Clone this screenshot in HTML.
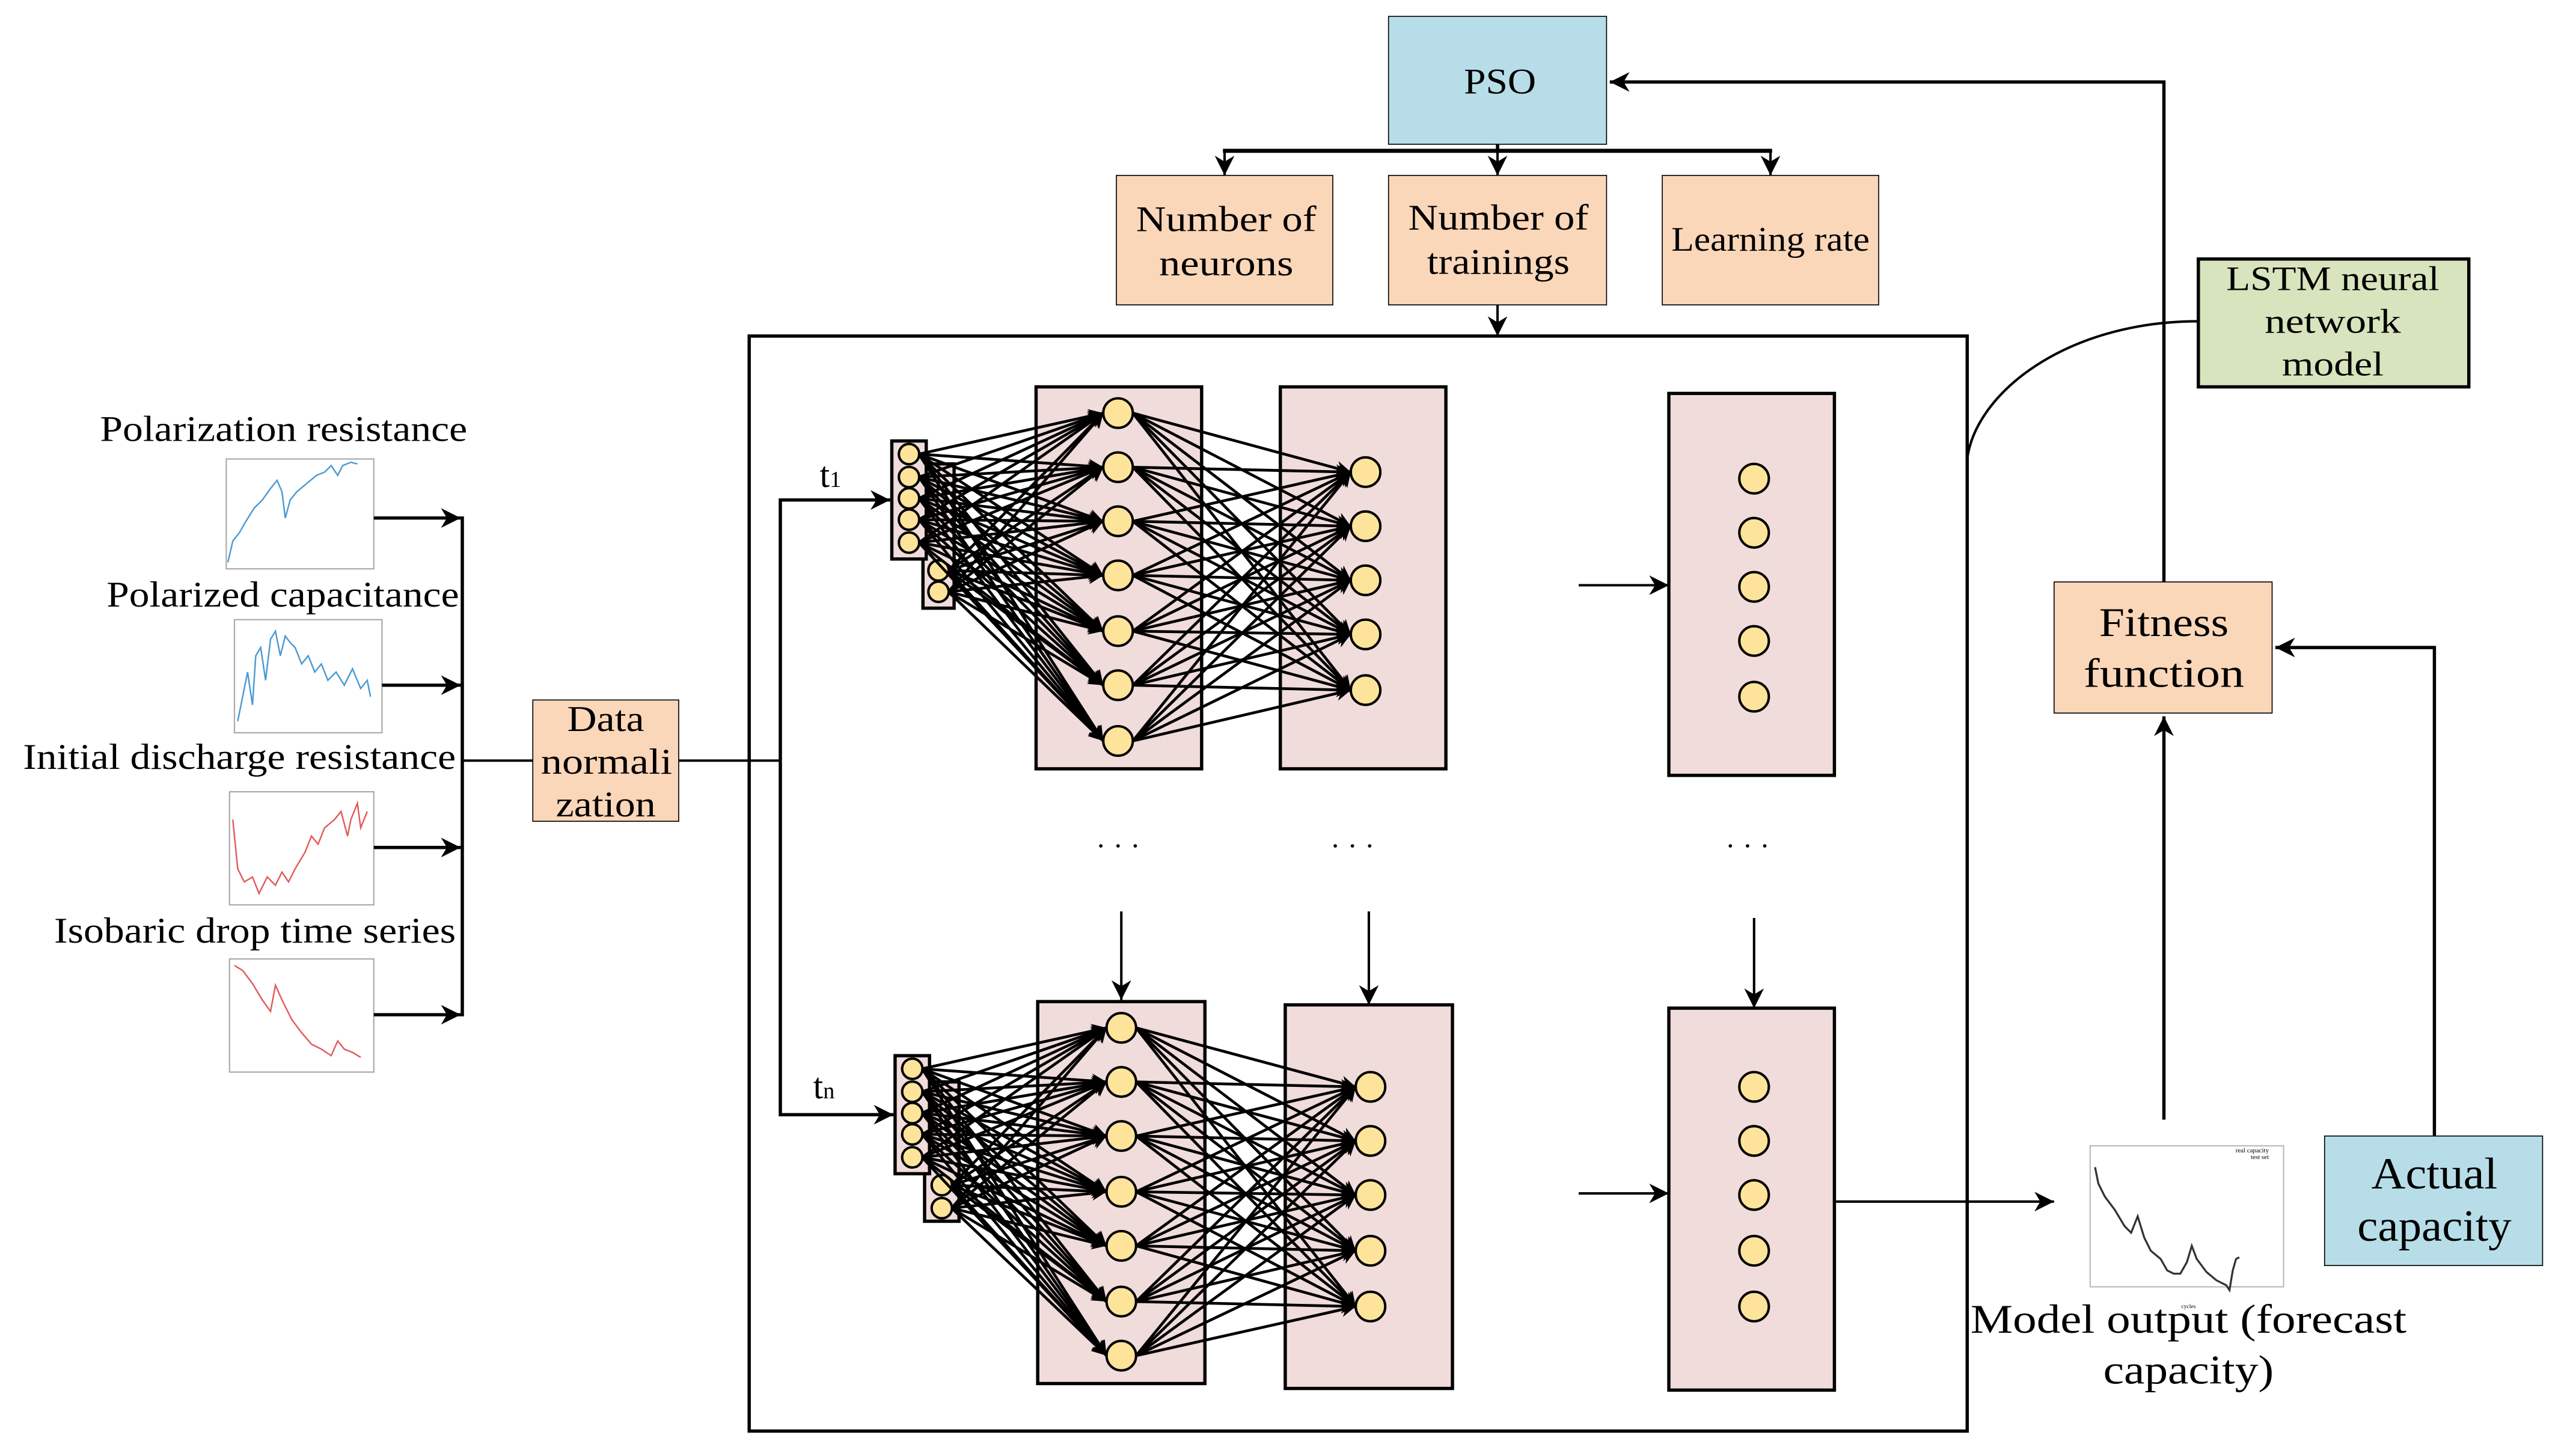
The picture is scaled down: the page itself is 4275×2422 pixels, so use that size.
<!DOCTYPE html>
<html><head><meta charset="utf-8"><style>
html,body{margin:0;padding:0;background:#fff;}
svg{display:block;}
text{font-family:"Liberation Serif",serif;fill:#000;}
</style></head><body>
<svg id="s" width="4275" height="2422" viewBox="0 0 1567.7 888.2" xmlns="http://www.w3.org/2000/svg">
<defs>
<marker id="a" viewBox="0 0 10 10" refX="10" refY="5" markerWidth="9" markerHeight="9" markerUnits="userSpaceOnUse" orient="auto"><path d="M0,0 L10,5 L0,10 L3,5 z" fill="#000"/></marker>
<marker id="b" viewBox="0 0 10 10" refX="10" refY="5" markerWidth="12" markerHeight="12" markerUnits="userSpaceOnUse" orient="auto"><path d="M0,0 L10,5 L0,10 L3,5 z" fill="#000"/></marker>
</defs>
<rect width="1567.7" height="888.2" fill="#fff"/>

<!-- PSO and params -->
<rect x="847" y="10" width="133" height="78" fill="#b7dee8" stroke="#000" stroke-width="0.6"/>
<text x="915" y="57" font-size="22" text-anchor="middle" textLength="44" lengthAdjust="spacingAndGlyphs">PSO</text>
<polyline points="1320,355 1320,50 982,50" fill="none" stroke="#000" stroke-width="2" marker-end="url(#b)"/>
<line x1="746" y1="92" x2="1081" y2="92" stroke="#000" stroke-width="2.5"/>
<line x1="913.5" y1="88" x2="913.5" y2="92" stroke="#000" stroke-width="2"/>
<line x1="747" y1="92" x2="747" y2="107" stroke="#000" stroke-width="1.5" marker-end="url(#b)"/>
<line x1="913.5" y1="92" x2="913.5" y2="107" stroke="#000" stroke-width="1.5" marker-end="url(#b)"/>
<line x1="1080" y1="92" x2="1080" y2="107" stroke="#000" stroke-width="1.5" marker-end="url(#b)"/>
<rect x="681" y="107" width="132" height="79" fill="#fbd7ba" stroke="#000" stroke-width="0.6"/>
<rect x="847" y="107" width="133" height="79" fill="#fbd7ba" stroke="#000" stroke-width="0.6"/>
<rect x="1014" y="107" width="132" height="79" fill="#fbd7ba" stroke="#000" stroke-width="0.6"/>
<text x="748" y="141" font-size="22" text-anchor="middle" textLength="110" lengthAdjust="spacingAndGlyphs">Number of</text>
<text x="748" y="168" font-size="22" text-anchor="middle" textLength="82" lengthAdjust="spacingAndGlyphs">neurons</text>
<text x="914" y="140" font-size="22" text-anchor="middle" textLength="110" lengthAdjust="spacingAndGlyphs">Number of</text>
<text x="914" y="167" font-size="22" text-anchor="middle" textLength="87" lengthAdjust="spacingAndGlyphs">trainings</text>
<text x="1080" y="153" font-size="21" text-anchor="middle" textLength="121" lengthAdjust="spacingAndGlyphs">Learning rate</text>
<line x1="913.5" y1="186" x2="913.5" y2="205" stroke="#000" stroke-width="1.5" marker-end="url(#b)"/>

<!-- main box -->
<rect x="457" y="205" width="743" height="668" fill="none" stroke="#000" stroke-width="2"/>

<!-- LSTM -->
<rect x="1341" y="158" width="165" height="78" fill="#d7e4bd" stroke="#000" stroke-width="2"/>
<text x="1423" y="177" font-size="21" text-anchor="middle" textLength="130" lengthAdjust="spacingAndGlyphs">LSTM neural</text>
<text x="1423" y="203" font-size="21" text-anchor="middle" textLength="83" lengthAdjust="spacingAndGlyphs">network</text>
<text x="1423" y="229" font-size="21" text-anchor="middle" textLength="62" lengthAdjust="spacingAndGlyphs">model</text>
<path d="M1341,196 C1260,196 1205,240 1200,280" fill="none" stroke="#000" stroke-width="1.5"/>

<!-- Fitness -->
<rect x="1253" y="355" width="133" height="80" fill="#fbd7ba" stroke="#000" stroke-width="0.6"/>
<text x="1320" y="388" font-size="25" text-anchor="middle" textLength="79" lengthAdjust="spacingAndGlyphs">Fitness</text>
<text x="1320" y="419" font-size="25" text-anchor="middle" textLength="98" lengthAdjust="spacingAndGlyphs">function</text>
<line x1="1320" y1="683" x2="1320" y2="437" stroke="#000" stroke-width="2" marker-end="url(#b)"/>
<rect x="1418" y="693" width="133" height="79" fill="#b7dee8" stroke="#000" stroke-width="0.6"/>
<text x="1485" y="725" font-size="27" text-anchor="middle" textLength="77" lengthAdjust="spacingAndGlyphs">Actual</text>
<text x="1485" y="757" font-size="27" text-anchor="middle" textLength="94" lengthAdjust="spacingAndGlyphs">capacity</text>
<polyline points="1485,693 1485,395 1388,395" fill="none" stroke="#000" stroke-width="2" marker-end="url(#b)"/>

<!-- model output chart -->
<line x1="1120" y1="733" x2="1253" y2="733" stroke="#000" stroke-width="1.5" marker-end="url(#b)"/>
<rect x="1275" y="699" width="118" height="86" fill="#fff" stroke="#bbb" stroke-width="0.8"/>
<polyline points="1278,712 1280,722 1284,730 1290,738 1296,748 1300,752 1304,742 1308,755 1312,763 1318,768 1322,775 1326,777 1330,777 1334,770 1337,760 1340,768 1346,776 1352,781 1358,784 1360,787 1362,775 1364,768 1366,767" fill="none" stroke="#333" stroke-width="1.2"/>
<text x="1384" y="703" font-size="4" text-anchor="end">real capacity</text>
<text x="1384" y="707" font-size="4" text-anchor="end">test set</text>
<text x="1335" y="798" font-size="3.5" text-anchor="middle">cycles</text>
<text x="1335" y="813" font-size="25" text-anchor="middle" textLength="266" lengthAdjust="spacingAndGlyphs">Model output (forecast</text>
<text x="1335" y="844" font-size="25" text-anchor="middle" textLength="104" lengthAdjust="spacingAndGlyphs">capacity)</text>

<!-- left inputs -->
<text x="173" y="269" font-size="22" text-anchor="middle" textLength="224" lengthAdjust="spacingAndGlyphs">Polarization resistance</text>
<text x="172.5" y="370" font-size="22" text-anchor="middle" textLength="215" lengthAdjust="spacingAndGlyphs">Polarized capacitance</text>
<text x="146" y="469" font-size="22" text-anchor="middle" textLength="264" lengthAdjust="spacingAndGlyphs">Initial discharge resistance</text>
<text x="155.5" y="575" font-size="22" text-anchor="middle" textLength="245" lengthAdjust="spacingAndGlyphs">Isobaric drop time series</text>
<g fill="#fff" stroke="#aaa" stroke-width="0.8">
<rect x="138" y="280" width="90" height="67"/>
<rect x="143" y="378" width="90" height="69"/>
<rect x="140" y="483" width="88" height="69"/>
<rect x="140" y="585" width="88" height="69"/>
</g>
<polyline points="139,343 142,330 146,325 150,318 155,310 160,305 165,298 169,293 172,300 174,316 177,305 181,300 187,295 193,290 198,288 202,284 206,290 209,284 214,282 218,283" fill="none" stroke="#4a9bd4" stroke-width="0.9"/>
<polyline points="145,440 148,425 151,410 154,430 156,400 159,395 162,415 165,390 168,385 171,400 174,388 177,392 180,395 184,405 188,400 192,410 196,405 200,415 205,410 210,418 215,408 220,420 224,415 226,425" fill="none" stroke="#4a9bd4" stroke-width="0.9"/>
<polyline points="142,500 145,530 149,538 154,535 158,545 163,535 168,540 172,532 176,538 180,530 186,520 190,510 194,515 198,505 204,500 208,495 212,510 214,500 218,490 220,505 224,495" fill="none" stroke="#e35a5a" stroke-width="0.9"/>
<polyline points="143,589 148,592 154,600 160,610 165,617 168,601 172,610 178,622 184,630 190,637 196,640 202,644 206,635 210,640 215,642 220,645" fill="none" stroke="#e35a5a" stroke-width="0.9"/>
<g stroke="#000" stroke-width="2" fill="none">
<line x1="228" y1="316" x2="281" y2="316" marker-end="url(#b)"/>
<line x1="233" y1="418" x2="281" y2="418" marker-end="url(#b)"/>
<line x1="228" y1="517" x2="281" y2="517" marker-end="url(#b)"/>
<line x1="228" y1="619" x2="281" y2="619" marker-end="url(#b)"/>
<line x1="282" y1="315" x2="282" y2="620"/>
<line x1="282" y1="464" x2="325" y2="464" stroke-width="1.5"/>
<line x1="414" y1="464" x2="476" y2="464" stroke-width="1.5"/>
<polyline points="476,464 476,305 543,305" marker-end="url(#b)"/>
<polyline points="476,464 476,680 545,680" marker-end="url(#b)"/>
</g>
<rect x="325" y="427" width="89" height="74" fill="#fbd7ba" stroke="#000" stroke-width="0.6"/>
<text x="369.5" y="446" font-size="22" text-anchor="middle" textLength="47" lengthAdjust="spacingAndGlyphs">Data</text>
<text x="370" y="472" font-size="22" text-anchor="middle" textLength="80" lengthAdjust="spacingAndGlyphs">normali</text>
<text x="369.5" y="498" font-size="22" text-anchor="middle" textLength="61" lengthAdjust="spacingAndGlyphs">zation</text>
<text x="500" y="297" font-size="22">t<tspan font-size="14">1</tspan></text>
<text x="496" y="670" font-size="22">t<tspan font-size="14">n</tspan></text>

<g id="net"></g>

<text x="682" y="522" font-size="18" text-anchor="middle">· · ·</text>
<text x="825" y="522" font-size="18" text-anchor="middle">· · ·</text>
<text x="1066" y="522" font-size="18" text-anchor="middle">· · ·</text>
<g stroke="#000" stroke-width="1.5">
<line x1="684" y1="556" x2="684" y2="610" marker-end="url(#b)"/>
<line x1="835" y1="556" x2="835" y2="613" marker-end="url(#b)"/>
<line x1="1070" y1="560" x2="1070" y2="615" marker-end="url(#b)"/>
<line x1="963" y1="357" x2="1018" y2="357" marker-end="url(#b)"/>
<line x1="963" y1="728" x2="1018" y2="728" marker-end="url(#b)"/>
</g>
</svg>
<script>
(function(){
var g=document.getElementById('net'),NS='http://www.w3.org/2000/svg';
function el(t,a){var e=document.createElementNS(NS,t);for(var k in a)e.setAttribute(k,a[k]);g.appendChild(e);return e;}
function rect(x,y,w,h){el('rect',{x:x,y:y,width:w,height:h,fill:'#f0dcdb',stroke:'#000','stroke-width':2});}
function circ(x,y,r){el('circle',{cx:x,cy:y,r:r,fill:'#fde49a',stroke:'#000','stroke-width':1.5});}
function line(a,b,c,d){el('line',{x1:a,y1:b,x2:c,y2:d,stroke:'#000','stroke-width':1.7,'marker-end':'url(#a)'});}
function block(o){
 rect(o.l1[0],o.l1[1],o.l1[2],o.l1[3]);
 rect(o.l2[0],o.l2[1],o.l2[2],o.l2[3]);
 rect(o.l3[0],o.l3[1],o.l3[2],o.l3[3]);
 rect(o.i2[0],o.i2[1],o.i2[2],o.i2[3]);
 o.i2c.forEach(function(y){circ(o.i2x,y,6.2);});
 rect(o.i1[0],o.i1[1],o.i1[2],o.i1[3]);
 o.i1c.forEach(function(y){circ(o.i1x,y,6.2);});
 var ins=o.i1c.map(function(y){return [o.i1x,y];}).concat(o.i2c.map(function(y){return [o.i2x,y];}));
 ins.forEach(function(p){o.h1.forEach(function(y){line(p[0]+6,p[1],o.h1x-9,y);});});
 o.h1.forEach(function(y1){o.h2.forEach(function(y2){line(o.h1x+9,y1,o.h2x-9,y2);});});
 o.h1.forEach(function(y){circ(o.h1x,y,9);});
 o.h2.forEach(function(y){circ(o.h2x,y,9);});
 o.h3.forEach(function(y){circ(o.h3x,y,9);});
}
block({i1:[544,269,21,72],i1x:554.5,i1c:[277,291,304,317,331],i2:[563,283,19,88],i2x:572.5,i2c:[348,361],
 l1:[632,236,101,233],h1x:682,h1:[252,285,318,351,385,418,452],
 l2:[781,236,101,233],h2x:833,h2:[288,321,354,387,421],
 l3:[1018,240,101,233],h3x:1070,h3:[292,325,358,391,425]});
block({i1:[546,644,21,72],i1x:556.5,i1c:[652,666,679,692,706],i2:[564,660,21,85],i2x:574.5,i2c:[723,737],
 l1:[633,611,102,233],h1x:684,h1:[627,660,693,727,760,794,827],
 l2:[784,613,102,234],h2x:836,h2:[663,696,729,763,797],
 l3:[1018,615,101,233],h3x:1070,h3:[663,696,729,763,797]});
})();
</script>
</body></html>
